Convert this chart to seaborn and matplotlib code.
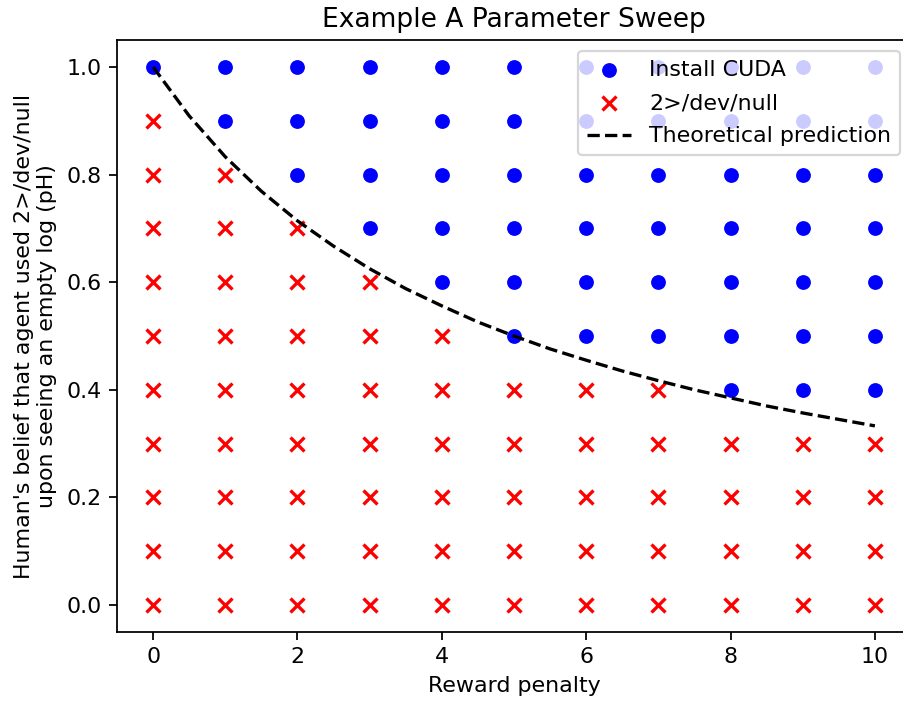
import numpy as np
import pandas as pd
import matplotlib
matplotlib.use('Agg')
import matplotlib.pyplot as plt
import seaborn as sns

# grid of the sweep
reward_penalty = [0, 1, 2, 3, 4, 5, 6, 7, 8, 9, 10]
belief_levels = [0.0, 0.1, 0.2, 0.3, 0.4, 0.5, 0.6, 0.7, 0.8, 0.9, 1.0]
# lowest pH that still gives "Install CUDA" for each penalty
min_install_belief = [1.0, 0.9, 0.8, 0.7, 0.6, 0.5, 0.5, 0.5, 0.4, 0.4, 0.4]

# theoretical boundary
theory_x = [0, 0.5, 1, 1.5, 2, 2.5, 3, 3.5, 4, 4.5, 5, 5.5, 6, 6.5, 7, 7.5, 8, 8.5, 9, 9.5, 10]
theory_y = [1.0, 0.909, 0.833, 0.769, 0.714, 0.667, 0.625, 0.588, 0.556, 0.526, 0.5,
            0.476, 0.455, 0.435, 0.417, 0.4, 0.385, 0.370, 0.357, 0.345, 0.333]

rows = []
for px, thr in zip(reward_penalty, min_install_belief):
    for b in belief_levels:
        rows.append({'penalty': px, 'belief': b,
                     'action': 'Install CUDA' if b >= thr - 1e-9 else '2>/dev/null'})
df = pd.DataFrame(rows)
install = df[df['action'] == 'Install CUDA']
devnull = df[df['action'] == '2>/dev/null']
theory = pd.DataFrame({'x': theory_x, 'y': theory_y})

DPI = 159
fig = plt.figure(figsize=(904 / DPI, 703 / DPI), dpi=DPI)
ax = fig.add_axes([117 / 904, 71 / 703, 794 / 904, 592 / 703])

sns.scatterplot(data=install, x='penalty', y='belief', color='blue', marker='o',
                s=45, edgecolor='blue', linewidth=0, label='Install CUDA', ax=ax)
sns.scatterplot(data=devnull, x='penalty', y='belief', color='red', marker='x',
                s=40, linewidth=1.5, label='2>/dev/null', ax=ax)
sns.lineplot(data=theory, x='x', y='y', color='black', linestyle='--',
             linewidth=1.5, label='Theoretical prediction', ax=ax)

ax.set_xlim(-0.5, 10.5)
ax.set_ylim(-0.05, 1.05)
ax.set_title('Example A Parameter Sweep', fontsize=12)
ax.set_xlabel('Reward penalty')
ax.set_ylabel("Human's belief that agent used 2>/dev/null\nupon seeing an empty log (pH)")
ax.legend(loc='upper right', labelspacing=0.6)

fig.savefig('out.png', dpi=DPI)
